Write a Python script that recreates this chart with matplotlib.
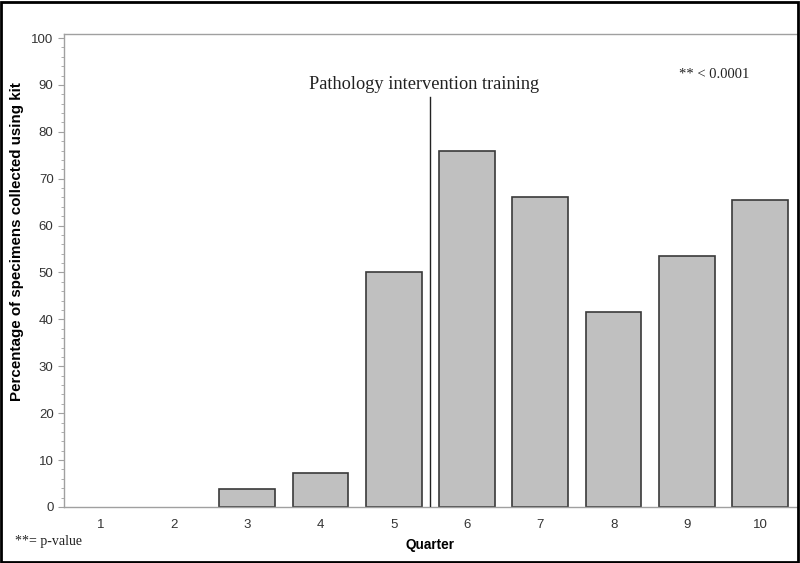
import matplotlib
matplotlib.use("Agg")
import matplotlib.pyplot as plt
from matplotlib.patches import Rectangle
from matplotlib.ticker import MultipleLocator

quarters = [1, 2, 3, 4, 5, 6, 7, 8, 9, 10]
pct_kit = [0, 0, 3.9, 7.3, 50, 76, 66, 41.5, 53.5, 65.5]
training_at = 5.5

fig = plt.figure(figsize=(8, 5.63), dpi=100)
ax = fig.add_axes([0.08, 0.0995, 0.916, 0.8405])

# empty quarters get no outline, as in the original
edge_w = [1.2 if v > 0 else 0 for v in pct_kit]
ax.bar(quarters, pct_kit, width=0.76, color="#c0c0c0", edgecolor="#3a3a3a", linewidth=edge_w, zorder=2)

ax.set_xlim(0.5, 10.5)
ax.set_ylim(0, 100.9)
ax.set_xticks(quarters)
ax.yaxis.set_major_locator(MultipleLocator(10))
ax.yaxis.set_minor_locator(MultipleLocator(2))

for s in ["left", "top", "bottom"]:
    ax.spines[s].set_color("#a0a0a0")
    ax.spines[s].set_linewidth(1.0)
ax.spines["right"].set_visible(False)

ax.tick_params(axis="y", which="major", length=4, color="#a0a0a0", labelsize=9.5, labelcolor="#333333")
ax.tick_params(axis="y", which="minor", length=2.5, color="#a0a0a0")
ax.tick_params(axis="x", length=0, labelsize=9.5, labelcolor="#333333", pad=9)

ax.set_ylabel("Percentage of specimens collected using kit", fontsize=10.9, fontweight="bold",
              family="Liberation Sans")
ax.yaxis.set_label_coords(-0.055, 0.56)
ax.set_xlabel("Quarter", fontsize=9.8, fontweight="bold", family="Liberation Sans", labelpad=5)
for lbl in ax.get_xticklabels() + ax.get_yticklabels():
    lbl.set_family("Liberation Sans")

# intervention marker
ax.plot([training_at, training_at], [0, 87.5], color="#222222", linewidth=1.0, zorder=3)
ax.text(training_at - 0.08, 90.1, "Pathology intervention training", ha="center", va="center",
        fontsize=13.2, family="Liberation Serif", color="#222222")
ax.text(9.37, 92.3, "** < 0.0001", ha="center", va="center",
        fontsize=10.5, family="Liberation Serif", color="#222222")

fig.text(0.019, 0.039, "**= p-value", ha="left", va="center",
         fontsize=10, family="Liberation Serif", color="#222222")

fig.patches.append(Rectangle((0.0015, 0.002), 0.996, 0.995, transform=fig.transFigure,
                             fill=False, edgecolor="black", linewidth=2.0))

fig.savefig("out.png", dpi=100)
